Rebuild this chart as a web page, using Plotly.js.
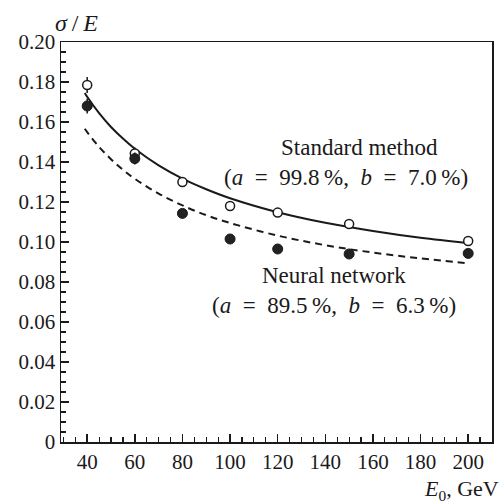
<!DOCTYPE html>
<html><head><meta charset="utf-8">
<script src="https://cdn.plot.ly/plotly-3.0.1.min.js"></script>
<style>html,body{margin:0;padding:0;background:#fff}#c{width:501px;height:504px}</style>
</head><body><div id="c"></div>
<script>
// Measured points
const energies = [40, 60, 80, 100, 120, 150, 200];
const standardSigma = [0.1785, 0.1443, 0.1300, 0.1180, 0.1147, 0.1090, 0.1005];
const standardErr = [0.0040, 0.0030, 0.0020, 0.0020, 0.0020, 0.0020, 0.0020];
const neuralSigma = [0.1680, 0.1417, 0.1143, 0.1015, 0.0965, 0.0940, 0.0943];
const neuralErr = [0.0037, 0.0030, 0.0020, 0.0020, 0.0020, 0.0020, 0.0020];
// Fitted curves
const curveE = [39, 40, 45, 50, 55, 60, 70, 80, 90, 100, 120, 140, 160, 180, 200];
const standardFit = [0.1745, 0.1726, 0.1644, 0.1575, 0.1517, 0.1466, 0.1383, 0.1317, 0.1264, 0.1219, 0.1149, 0.1096, 0.1055, 0.1021, 0.0994];
const neuralFit = [0.1566, 0.1549, 0.1475, 0.1414, 0.1361, 0.1316, 0.1242, 0.1183, 0.1134, 0.1095, 0.1032, 0.0984, 0.0947, 0.0918, 0.0893];
// Ticks
const xTicks = [40, 60, 80, 100, 120, 140, 160, 180, 200];
const yTicks = [0, 0.02, 0.04, 0.06, 0.08, 0.10, 0.12, 0.14, 0.16, 0.18, 0.20];
const yTickText = ['0', '0.02', '0.04', '0.06', '0.08', '0.10', '0.12', '0.14', '0.16', '0.18', '0.20'];

const F = 'Liberation Serif, Times New Roman, serif';
const ink = '#1a1a1a';
const S = '\u00a0';   // wide spacing as in the TeX typesetting
const T = '\u2009';

const traces = [
  {x: curveE, y: standardFit, mode: 'lines', line: {color: ink, width: 2, shape: 'spline'}, hoverinfo: 'skip'},
  {x: curveE, y: neuralFit, mode: 'lines', line: {color: ink, width: 2, dash: '7px,5px', shape: 'spline'}, hoverinfo: 'skip'},
  {x: energies, y: standardSigma, mode: 'markers',
   error_y: {type: 'data', array: standardErr, visible: true, color: ink, thickness: 1.5, width: 0},
   marker: {symbol: 'circle', size: 9, color: '#fff', line: {color: ink, width: 1.5}}},
  {x: energies, y: neuralSigma, mode: 'markers',
   error_y: {type: 'data', array: neuralErr, visible: true, color: ink, thickness: 1.5, width: 0},
   marker: {symbol: 'circle', size: 10, color: '#222', line: {color: ink, width: 1}}}
];

const EQ = S + S + '=' + S + S;
const eqStd = '(<i>a</i>' + EQ + '99.8' + T + '%,' + S + S + '<i>b</i>' + EQ + '7.0' + T + '%)';
const eqNN = '(<i>a</i>' + EQ + '89.5' + T + '%,' + S + S + '<i>b</i>' + EQ + '6.3' + T + '%)';

const layout = {
  width: 501, height: 504,
  margin: {l: 61, r: 9, t: 42, b: 62},
  paper_bgcolor: '#fff', plot_bgcolor: '#fff',
  showlegend: false,
  font: {family: F, size: 20, color: ink},
  xaxis: {
    range: [29, 210], showgrid: false, zeroline: false,
    showline: true, mirror: true, linecolor: ink, linewidth: 1.5,
    ticks: 'inside', ticklen: 8, tickwidth: 1.5, tickcolor: ink,
    tickvals: xTicks, ticktext: xTicks.map(String),
    tickfont: {family: F, size: 21, color: ink},
    minor: {dtick: 5, tick0: 0, ticks: 'inside', ticklen: 5, tickwidth: 1.2, tickcolor: ink, showgrid: false}
  },
  yaxis: {
    range: [0, 0.2], showgrid: false, zeroline: false,
    showline: true, mirror: true, linecolor: ink, linewidth: 1.5,
    ticks: 'inside', ticklen: 8, tickwidth: 1.5, tickcolor: ink,
    tickvals: yTicks, ticktext: yTickText,
    tickfont: {family: F, size: 21, color: ink},
    minor: {dtick: 0.005, tick0: 0, ticks: 'inside', ticklen: 5, tickwidth: 1.2, tickcolor: ink, showgrid: false}
  },
  annotations: [
    {xref: 'paper', yref: 'paper', x: 0.0, y: 1.0, xanchor: 'left', yanchor: 'bottom', yshift: 4, xshift: -8,
     text: '<i>σ</i>' + T + '/' + T + '<i>E</i>', showarrow: false, font: {family: F, size: 24, color: ink}},
    {xref: 'paper', yref: 'paper', x: 1.0, y: 0, xanchor: 'right', yanchor: 'top', yshift: -32, xshift: 9,
     text: '<i>E</i><sub>0</sub>,' + S + 'GeV', showarrow: false, font: {family: F, size: 22, color: ink}},
    {xref: 'x', yref: 'y', x: 154.5, y: 0.1475, text: 'Standard method', showarrow: false, font: {family: F, size: 23, color: ink}},
    {xref: 'x', yref: 'y', x: 148.7, y: 0.1325, text: eqStd, showarrow: false, font: {family: F, size: 23, color: ink}},
    {xref: 'x', yref: 'y', x: 143.7, y: 0.0835, text: 'Neural network', showarrow: false, font: {family: F, size: 23, color: ink}},
    {xref: 'x', yref: 'y', x: 143.7, y: 0.0685, text: eqNN, showarrow: false, font: {family: F, size: 23, color: ink}}
  ]
};
Plotly.newPlot('c', traces, layout, {displayModeBar: false, staticPlot: true});
</script></body></html>
